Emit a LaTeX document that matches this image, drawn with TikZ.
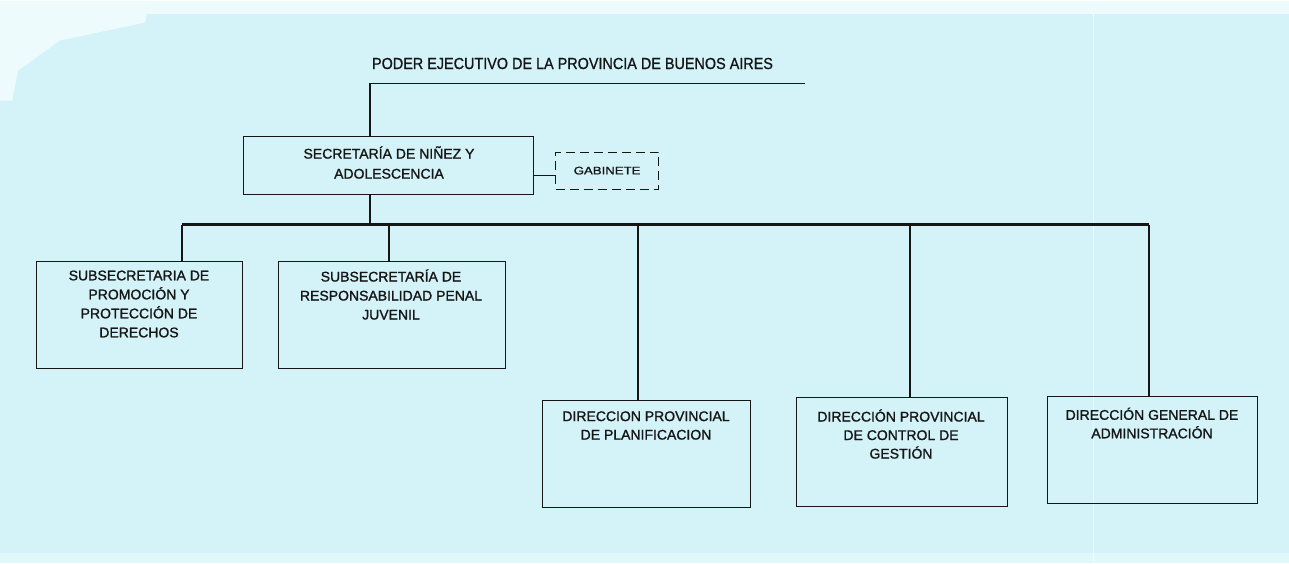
\documentclass[tikz,border=0pt]{standalone}
\usepackage{fontspec}
\setmainfont[FakeBold=1.3]{Liberation Sans}
\newfontfamily\titlefont[FakeStretch=0.9,FakeBold=1]{Liberation Sans}
\newfontfamily\gabfont[FakeStretch=1.2,FakeBold=1.3]{Liberation Sans}
\definecolor{bg}{RGB}{212,243,248}
\definecolor{bgl}{RGB}{238,251,253}
\definecolor{ink}{RGB}{22,22,22}
\begin{document}
\begin{tikzpicture}[x=1pt,y=-1pt,
  box/.style={draw=ink, line width=1.4pt, inner sep=0pt, anchor=north west},
  lbl/.style={text=ink, align=center, inner sep=0pt, font=\fontsize{14}{19}\selectfont},
  lbll/.style={text=ink, align=center, inner sep=0pt, font=\fontsize{14}{18.5}\selectfont},
  conn/.style={draw=ink, line width=1.4pt},
  bus/.style={draw=ink, line width=2.8pt, line join=miter},
  dbox/.style={draw=ink, line width=1.2pt, dash pattern=on 9pt off 5pt, inner sep=0pt, anchor=north west}]
% background
\fill[bg] (0,0) rectangle (1289,562);
\fill[bgl] (0,0) rectangle (1289,13);
\fill[bgl] (0,0) -- (150,0) -- (145,22) -- (60,40) -- (18,70) -- (12,100) -- (0,100) -- cycle;
\fill[bgl, opacity=0.5] (0,552) rectangle (1289,562);
\draw[bgl, line width=1pt] (1093,0) -- (1093,562);
\useasboundingbox (0,0) rectangle (1289,562);
% title
\node[text=ink, inner sep=0pt, font=\titlefont\fontsize{16}{18}\selectfont] (title) at (572.5,63) {PODER EJECUTIVO DE LA PROVINCIA DE BUENOS AIRES};
\coordinate (tl) at (370,83);
\coordinate (tr) at (805,83);
% secretaria
\node[box, minimum width=290pt, minimum height=58pt] (sec) at (243,135) {};
\node[lbl, font=\fontsize{14}{20}\selectfont] (sect) at (389,162) {SECRETARÍA DE NIÑEZ Y\\ADOLESCENCIA};
% gabinete
\node[dbox, minimum width=103pt, minimum height=37pt] (gab) at (555,151) {};
\node[text=ink, inner sep=0pt, font=\gabfont\fontsize{11}{13}\selectfont] (gabt) at (gab.center) {GABINETE};
\coordinate (gy) at (0,175);
% level 1 boxes
\node[box, minimum width=206pt, minimum height=107pt] (b1) at (36,260) {};
\node[lbl] (b1t) at (139,303.5) {SUBSECRETARIA DE\\PROMOCIÓN Y\\PROTECCIÓN DE\\DERECHOS};
\node[box, minimum width=227pt, minimum height=107pt] (b2) at (278,260) {};
\node[lbl] (b2t) at (391,294) {SUBSECRETARÍA DE\\RESPONSABILIDAD PENAL\\JUVENIL};
% level 2 boxes
\node[box, minimum width=208pt, minimum height=107pt] (b3) at (542,399) {};
\node[lbll] (b3t) at (646,425) {DIRECCION PROVINCIAL\\DE PLANIFICACION};
\node[box, minimum width=211pt, minimum height=109pt] (b4) at (796,396) {};
\node[lbll] (b4t) at (901,433.5) {DIRECCIÓN PROVINCIAL\\DE CONTROL DE\\GESTIÓN};
\node[box, minimum width=210pt, minimum height=107pt] (b5) at (1047,395) {};
\node[lbll] (b5t) at (1152,422.5) {DIRECCIÓN GENERAL DE\\ADMINISTRACIÓN};
% bus coordinates
\coordinate (busL) at (182,224);
\coordinate (busR) at (1149,224);
\coordinate (d2) at (389,224);
\coordinate (d3) at (638,224);
\coordinate (d4) at (910,224);
% connectors
\draw[conn] (tr) -- (tl) -- (tl |- sec.north);
\draw[conn] (sec.east |- gy) -- (gab.west |- gy);
\draw[conn] (tl |- sec.south) -- (tl |- busL);
\draw[bus] (busL) -- (busR);
\draw[conn] (busL) -- (busL |- b1.north);
\draw[conn, line width=2pt] (busR) -- (busR |- b5.north);
\draw[conn] (d2) -- (d2 |- b2.north);
\draw[conn] (d3) -- (d3 |- b3.north);
\draw[conn] (d4) -- (d4 |- b4.north);
\end{tikzpicture}
\end{document}
